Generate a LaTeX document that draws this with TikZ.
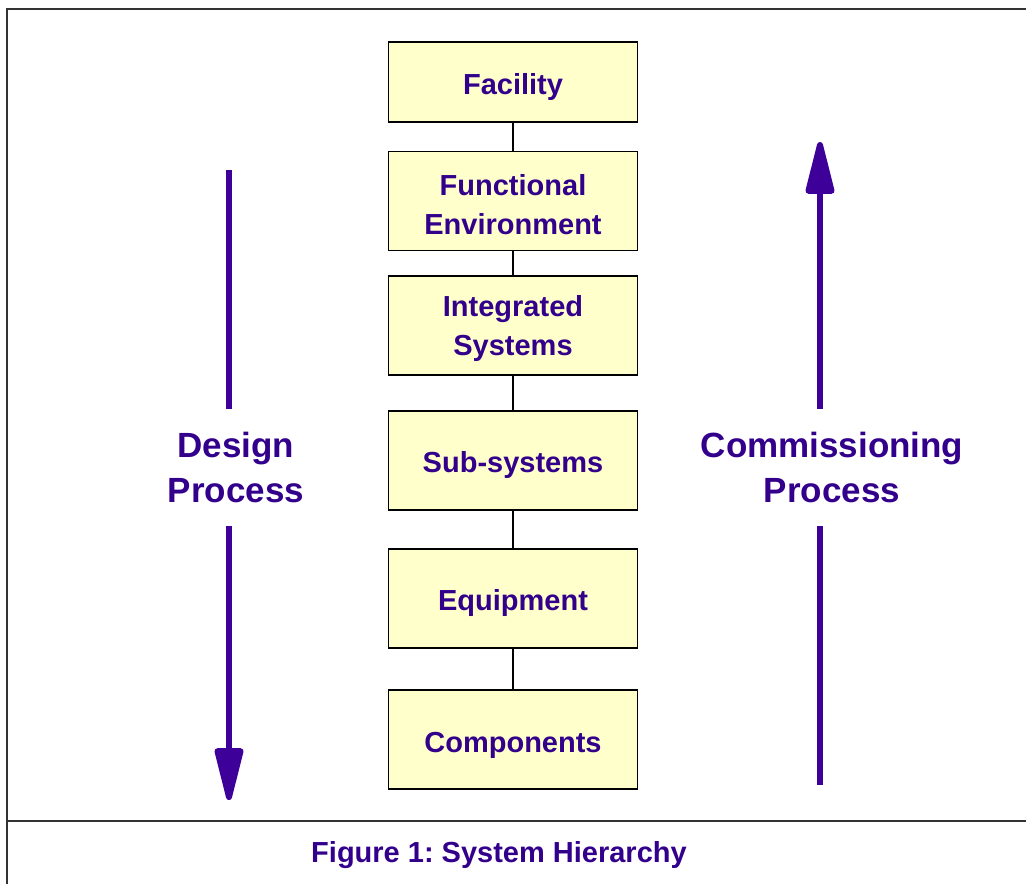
\documentclass[tikz,border=0pt]{standalone}
\usepackage{fontspec}
\setmainfont{Liberation Sans}
\usetikzlibrary{arrows.meta}
\usetikzlibrary{positioning}
\definecolor{hierpurple}{HTML}{33008C}
\definecolor{arrowpurple}{HTML}{3D0099}
\definecolor{boxyellow}{HTML}{FFFFCC}
\definecolor{framegray}{HTML}{333333}
\frenchspacing

\begin{document}
\begin{tikzpicture}[x=1pt,y=-1pt,
  level/.style={draw=black, line width=1.1pt, fill=boxyellow, minimum width=249pt,
    minimum height=99pt, text=hierpurple, align=center, inner sep=0pt, text height=31pt,
    font=\fontsize{29}{39}\selectfont\bfseries},
  twoline/.style={text height=67pt},
  link/.style={line width=1.1pt},
  process/.style={text=hierpurple, align=center, minimum height=117pt, inner sep=0pt,
    font=\fontsize{35}{45}\selectfont\bfseries},
  flow/.style={line width=6pt, draw=arrowpurple,
    -{Triangle[width=29pt,length=62pt,round]}}]
\useasboundingbox (0,0) rectangle (1026,884);
% frame and caption
  \draw[framegray, line width=2pt] (1026,9) -- (7,9) -- (7,884);
  \draw[framegray, line width=2pt] (7,821) -- (1026,821);
  \node[text=hierpurple, font=\fontsize{29}{35}\selectfont\bfseries] (caption) at (499,855)
    {Figure 1: System Hierarchy};

% hierarchy
  \node[level, minimum height=80pt] (facility) at (513,82) {Facility};
  \node[level, twoline] (functional) at (513,201) {Functional\\Environment};
  \node[level, twoline] (integrated) at (513,325.5) {Integrated\\Systems};
  \node[level] (subsys) at (513,460.5) {Sub-systems};
  \node[level] (equipment) at (513,598.5) {Equipment};
  \node[level] (components) at (513,739.5) {Components};
  \draw[link] (facility) -- (functional);
  \draw[link] (functional) -- (integrated);
  \draw[link] (integrated) -- (subsys);
  \draw[link] (subsys) -- (equipment);
  \draw[link] (equipment) -- (components);

% design process (downwards)
  \coordinate (dtop) at (229,170);
  \coordinate (dbot) at (229,800);
  \node[process] (design) at (236,467.5) {Design\\Process};
  \draw[line width=6pt, arrowpurple] (dtop) -- (design.north -| dtop);
  \draw[flow] (design.south -| dtop) -- (dbot);

% commissioning process (upwards)
  \coordinate (ctop) at (820,142);
  \coordinate (cbot) at (820,785);
  \node[process] (commission) at (832,467.5) {Commissioning\\Process};
  \draw[flow] (commission.north -| ctop) -- (ctop);
  \draw[line width=6pt, arrowpurple] (cbot) -- (commission.south -| cbot);
\end{tikzpicture}
\end{document}
